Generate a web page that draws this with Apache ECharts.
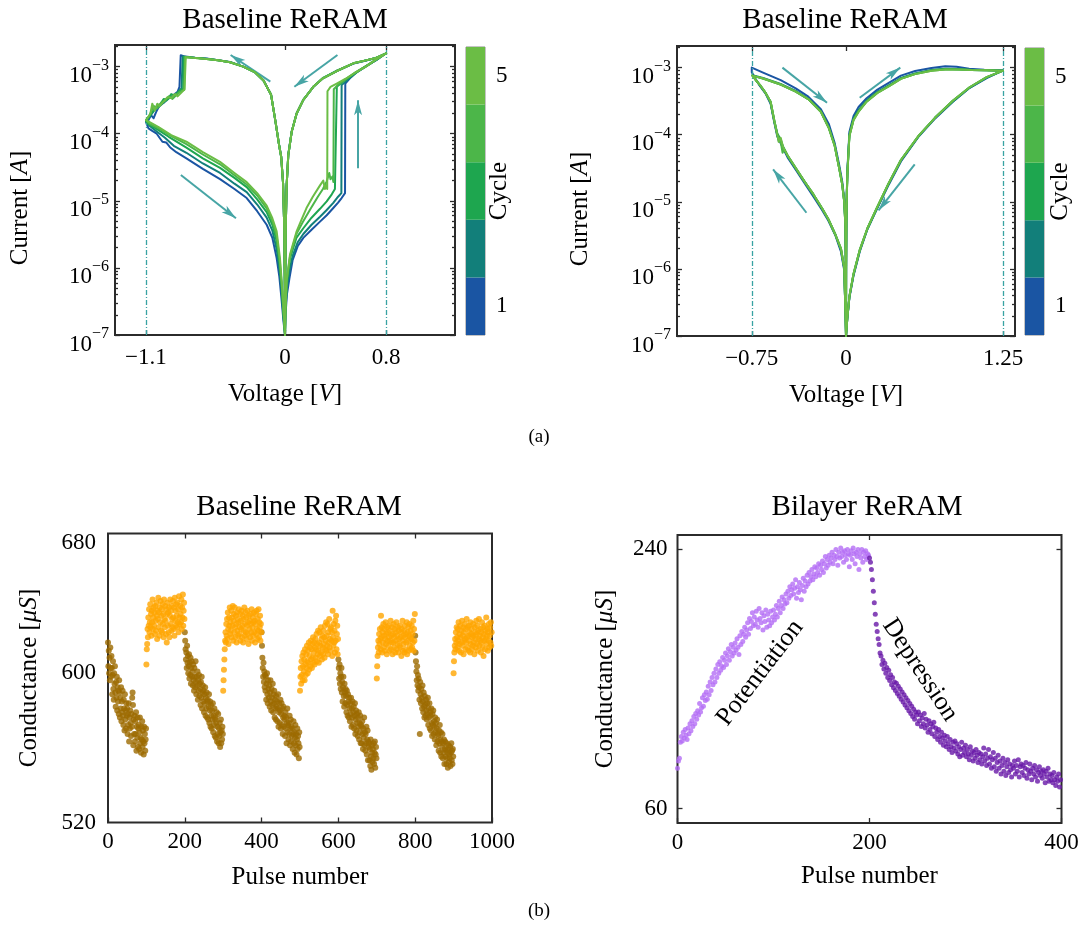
<!DOCTYPE html>
<html><head><meta charset="utf-8">
<script src="https://cdn.jsdelivr.net/npm/echarts@6/dist/echarts.min.js"></script>
<style>html,body{margin:0;padding:0;background:#fff}#c{width:1079px;height:940px}</style>
</head><body><div id="c"></div>
<script>
const FONT = 'Liberation Serif';

// ---------------- (a) I-V sweeps, left panel (Baseline ReRAM) : [V, |I|] ----------------
const ivA1 = [[0,1e-7],[0.004,2e-7],[0.015,4e-7],[0.035,7e-7],[0.06,1.3e-6],[0.1,2.1e-6],[0.145,2.8e-6],[0.21,3.7e-6],[0.277,4.9e-6],[0.33,6.1e-6],[0.382,7.8e-6],[0.42,9.4e-6],[0.448,1.1e-5],[0.475,1.3e-5],[0.477,5.6e-4],[0.52,6.9e-4],[0.567,8.3e-4],[0.62,9.6e-4],[0.672,1.1e-3],[0.74,1.32e-3],[0.8,1.58e-3],[0.72,1.34e-3],[0.64,1.23e-3],[0.54,1.11e-3],[0.41,8.6e-4],[0.3,6.7e-4],[0.224,5.0e-4],[0.145,3.2e-4],[0.092,2.0e-4],[0.053,1.07e-4],[0.026,4.8e-5],[0.013,1.7e-5],[0.006,4e-6],[0.002,8e-7],[0,1e-7],[-0.002,8e-7],[-0.006,4e-6],[-0.015,1.8e-5],[-0.03,4.5e-5],[-0.047,6.8e-5],[-0.075,1.5e-4],[-0.11,3.8e-4],[-0.17,6.2e-4],[-0.24,8.3e-4],[-0.33,1.0e-3],[-0.435,1.17e-3],[-0.53,1.25e-3],[-0.62,1.32e-3],[-0.71,1.36e-3],[-0.79,1.41e-3],[-0.825,1.48e-3],[-0.835,5.0e-4],[-0.85,4.2e-4],[-0.88,3.8e-4],[-0.91,3.4e-4],[-0.94,3.3e-4],[-0.96,2.9e-4],[-0.99,2.7e-4],[-1.02,2.1e-4],[-1.04,1.7e-4],[-1.06,1.9e-4],[-1.08,1.6e-4],[-1.1,1.5e-4],[-1.08,1.2e-4],[-1.05,1.1e-4],[-1.015,1.0e-4],[-0.97,7.6e-5],[-0.94,7.4e-5],[-0.91,6.3e-5],[-0.86,5.3e-5],[-0.78,4.3e-5],[-0.65,3.0e-5],[-0.514,2.1e-5],[-0.4,1.5e-5],[-0.303,1.1e-5],[-0.22,7.0e-6],[-0.145,4.4e-6],[-0.1,2.8e-6],[-0.066,1.4e-6],[-0.045,7.5e-7],[-0.028,3.5e-7],[-0.012,1.6e-7],[0,1e-7]];
const ivA2 = [[0,1e-7],[0.004,2.2e-7],[0.014,5e-7],[0.035,9e-7],[0.06,1.5e-6],[0.1,2.4e-6],[0.145,3.2e-6],[0.21,4.4e-6],[0.277,5.8e-6],[0.33,7.3e-6],[0.382,9.3e-6],[0.42,1.15e-5],[0.446,1.3e-5],[0.448,5.3e-4],[0.5,6.5e-4],[0.567,8.2e-4],[0.62,9.5e-4],[0.672,1.1e-3],[0.74,1.32e-3],[0.8,1.58e-3],[0.72,1.35e-3],[0.64,1.23e-3],[0.54,1.11e-3],[0.41,8.7e-4],[0.3,6.7e-4],[0.224,5.0e-4],[0.145,3.2e-4],[0.092,2.0e-4],[0.053,1.08e-4],[0.026,4.8e-5],[0.013,1.7e-5],[0.006,4e-6],[0.002,8e-7],[0,1e-7],[-0.002,8e-7],[-0.006,4e-6],[-0.015,1.8e-5],[-0.03,4.5e-5],[-0.047,6.9e-5],[-0.075,1.5e-4],[-0.11,3.8e-4],[-0.17,6.2e-4],[-0.24,8.3e-4],[-0.33,1.0e-3],[-0.435,1.16e-3],[-0.53,1.24e-3],[-0.62,1.31e-3],[-0.71,1.35e-3],[-0.81,1.42e-3],[-0.818,4.8e-4],[-0.85,4.0e-4],[-0.88,3.5e-4],[-0.91,3.6e-4],[-0.94,3.1e-4],[-0.97,2.8e-4],[-1.0,2.5e-4],[-1.03,2.3e-4],[-1.06,1.9e-4],[-1.08,1.7e-4],[-1.1,1.55e-4],[-1.07,1.3e-4],[-1.02,1.1e-4],[-0.95,8.7e-5],[-0.88,6.6e-5],[-0.78,5.2e-5],[-0.65,3.6e-5],[-0.514,2.6e-5],[-0.4,1.8e-5],[-0.303,1.35e-5],[-0.22,8.8e-6],[-0.145,5.6e-6],[-0.1,3.6e-6],[-0.066,1.9e-6],[-0.042,9e-7],[-0.025,4e-7],[-0.011,1.8e-7],[0,1e-7]];
const ivA3 = [[0,1e-7],[0.004,2.3e-7],[0.014,6e-7],[0.04,1.4e-6],[0.09,2.8e-6],[0.145,3.9e-6],[0.21,5.6e-6],[0.277,7.6e-6],[0.33,9.8e-6],[0.37,1.25e-5],[0.395,1.5e-5],[0.408,1.45e-5],[0.41,5.0e-4],[0.46,6.0e-4],[0.52,7.2e-4],[0.6,9.1e-4],[0.68,1.13e-3],[0.74,1.33e-3],[0.8,1.58e-3],[0.72,1.35e-3],[0.64,1.24e-3],[0.54,1.12e-3],[0.41,8.6e-4],[0.3,6.8e-4],[0.224,5.0e-4],[0.145,3.2e-4],[0.092,2.0e-4],[0.053,1.07e-4],[0.026,4.9e-5],[0.013,1.7e-5],[0.006,4e-6],[0.002,8e-7],[0,1e-7],[-0.002,8e-7],[-0.006,4e-6],[-0.015,1.8e-5],[-0.03,4.6e-5],[-0.047,6.8e-5],[-0.075,1.5e-4],[-0.11,3.8e-4],[-0.17,6.2e-4],[-0.24,8.3e-4],[-0.33,1.0e-3],[-0.435,1.16e-3],[-0.53,1.24e-3],[-0.62,1.3e-3],[-0.71,1.35e-3],[-0.8,1.4e-3],[-0.805,4.7e-4],[-0.84,4.3e-4],[-0.87,3.7e-4],[-0.9,3.9e-4],[-0.93,3.2e-4],[-0.96,3.3e-4],[-0.99,2.7e-4],[-1.02,2.5e-4],[-1.05,2.1e-4],[-1.075,1.8e-4],[-1.1,1.55e-4],[-1.07,1.35e-4],[-1.01,1.16e-4],[-0.92,9.0e-5],[-0.78,6.2e-5],[-0.65,4.3e-5],[-0.514,3.1e-5],[-0.4,2.2e-5],[-0.303,1.6e-5],[-0.22,1.05e-5],[-0.145,6.8e-6],[-0.1,4.4e-6],[-0.066,2.5e-6],[-0.041,1.1e-6],[-0.025,5e-7],[-0.012,2e-7],[0,1e-7]];
const ivA4 = [[0,1e-7],[0.004,2.4e-7],[0.013,6.3e-7],[0.04,1.5e-6],[0.09,3.2e-6],[0.14,4.8e-6],[0.2,7.5e-6],[0.26,1.15e-5],[0.3,1.5e-5],[0.33,1.95e-5],[0.35,2.6e-5],[0.36,2.1e-5],[0.375,2.3e-5],[0.383,1.9e-5],[0.386,4.6e-4],[0.42,5.4e-4],[0.48,6.5e-4],[0.56,8.3e-4],[0.64,1.02e-3],[0.72,1.28e-3],[0.8,1.58e-3],[0.72,1.35e-3],[0.64,1.24e-3],[0.54,1.12e-3],[0.41,8.6e-4],[0.3,6.7e-4],[0.224,5.0e-4],[0.145,3.2e-4],[0.092,2.0e-4],[0.053,1.07e-4],[0.026,4.8e-5],[0.013,1.7e-5],[0.006,4e-6],[0.002,8e-7],[0,1e-7],[-0.002,8e-7],[-0.006,4e-6],[-0.015,1.8e-5],[-0.03,4.5e-5],[-0.047,6.8e-5],[-0.075,1.5e-4],[-0.11,3.8e-4],[-0.17,6.2e-4],[-0.24,8.3e-4],[-0.33,1.0e-3],[-0.435,1.16e-3],[-0.53,1.24e-3],[-0.62,1.3e-3],[-0.71,1.34e-3],[-0.79,1.39e-3],[-0.797,4.5e-4],[-0.83,4.2e-4],[-0.86,3.8e-4],[-0.89,3.3e-4],[-0.92,3.6e-4],[-0.95,3.1e-4],[-0.98,2.9e-4],[-1.01,2.4e-4],[-1.04,2.6e-4],[-1.07,1.9e-4],[-1.1,1.6e-4],[-1.07,1.4e-4],[-1.0,1.2e-4],[-0.9,9.2e-5],[-0.78,7.0e-5],[-0.65,4.9e-5],[-0.514,3.5e-5],[-0.4,2.4e-5],[-0.303,1.75e-5],[-0.22,1.2e-5],[-0.145,7.7e-6],[-0.1,5.0e-6],[-0.066,3.0e-6],[-0.04,1.2e-6],[-0.025,5.5e-7],[-0.012,2.2e-7],[0,1e-7]];
const ivA5 = [[0,1e-7],[0.004,2.5e-7],[0.013,6.5e-7],[0.04,1.6e-6],[0.092,3.5e-6],[0.13,5.2e-6],[0.17,7.8e-6],[0.22,1.15e-5],[0.277,1.7e-5],[0.303,2.0e-5],[0.316,1.5e-5],[0.326,1.7e-5],[0.334,1.5e-5],[0.336,4.3e-4],[0.36,5.0e-4],[0.409,5.6e-4],[0.48,6.6e-4],[0.56,8.2e-4],[0.64,1.0e-3],[0.72,1.27e-3],[0.8,1.58e-3],[0.72,1.35e-3],[0.64,1.24e-3],[0.54,1.12e-3],[0.41,8.6e-4],[0.3,6.7e-4],[0.224,5.0e-4],[0.145,3.2e-4],[0.092,2.0e-4],[0.053,1.07e-4],[0.026,4.8e-5],[0.013,1.7e-5],[0.006,4e-6],[0.002,8e-7],[0,1e-7],[-0.002,8e-7],[-0.006,4e-6],[-0.015,1.8e-5],[-0.03,4.5e-5],[-0.047,6.8e-5],[-0.075,1.5e-4],[-0.11,3.8e-4],[-0.17,6.2e-4],[-0.24,8.3e-4],[-0.33,1.0e-3],[-0.435,1.16e-3],[-0.53,1.24e-3],[-0.62,1.3e-3],[-0.71,1.34e-3],[-0.785,1.38e-3],[-0.795,4.6e-4],[-0.82,4.1e-4],[-0.85,3.6e-4],[-0.87,3.9e-4],[-0.9,3.4e-4],[-0.93,3.5e-4],[-0.96,3.0e-4],[-0.99,2.6e-4],[-1.01,2.8e-4],[-1.03,2.2e-4],[-1.05,2.8e-4],[-1.065,2.0e-4],[-1.08,1.8e-4],[-1.1,1.6e-4],[-1.06,1.45e-4],[-1.0,1.25e-4],[-0.9,9.5e-5],[-0.78,7.6e-5],[-0.65,5.3e-5],[-0.514,3.8e-5],[-0.4,2.6e-5],[-0.303,1.9e-5],[-0.22,1.3e-5],[-0.145,8.5e-6],[-0.1,5.5e-6],[-0.066,3.5e-6],[-0.04,1.4e-6],[-0.025,6e-7],[-0.012,2.5e-7],[0,1e-7]];

// ---------------- (a) I-V sweeps, right panel ----------------
const ivB1 = [[0,1e-7],[0.001,1e-6],[0.003,5e-6],[0.006,1.3e-5],[0.012,3.2e-5],[0.027,1.1e-4],[0.06,1.9e-4],[0.1,2.6e-4],[0.164,3.5e-4],[0.25,4.7e-4],[0.35,6.1e-4],[0.437,7.6e-4],[0.55,8.9e-4],[0.68,9.9e-4],[0.79,1.05e-3],[0.88,1.03e-3],[0.98,9.6e-4],[1.1,9.3e-4],[1.25,9.1e-4],[1.12,7.0e-4],[0.984,5.0e-4],[0.85,3.1e-4],[0.71,1.75e-4],[0.58,9.5e-5],[0.437,4.0e-5],[0.34,1.8e-5],[0.246,7.8e-6],[0.17,3.9e-6],[0.109,1.8e-6],[0.06,8e-7],[0.027,3.7e-7],[0.01,1.8e-7],[0,1e-7],[-0.005,2.5e-7],[-0.014,9.5e-7],[-0.04,1.8e-6],[-0.083,3.1e-6],[-0.14,5.2e-6],[-0.192,7.6e-6],[-0.26,1.2e-5],[-0.33,1.9e-5],[-0.4,3.0e-5],[-0.465,4.6e-5],[-0.5,6.2e-5],[-0.53,8.2e-5],[-0.547,9.5e-5],[-0.57,1.5e-4],[-0.6,2.9e-4],[-0.64,4.1e-4],[-0.684,5.3e-4],[-0.72,6.8e-4],[-0.75,8.5e-4],[-0.75,1.0e-3],[-0.66,8.4e-4],[-0.52,6.5e-4],[-0.4,4.9e-4],[-0.3,3.7e-4],[-0.2,2.4e-4],[-0.137,1.45e-4],[-0.09,7.5e-5],[-0.055,3.6e-5],[-0.03,2e-5],[-0.014,1.1e-5],[-0.005,5e-6],[-0.001,1e-6],[0,1e-7]];
const ivB2 = [[0,1e-7],[0.001,1e-6],[0.003,4.8e-6],[0.006,1.25e-5],[0.012,3e-5],[0.027,1.0e-4],[0.06,1.75e-4],[0.1,2.35e-4],[0.164,3.25e-4],[0.25,4.35e-4],[0.35,5.6e-4],[0.437,7.0e-4],[0.55,8.2e-4],[0.68,9.2e-4],[0.79,9.6e-4],[0.9,9.5e-4],[1.0,9.2e-4],[1.12,9.1e-4],[1.25,9.0e-4],[1.12,7.1e-4],[0.984,5.0e-4],[0.85,3.1e-4],[0.71,1.8e-4],[0.58,9.6e-5],[0.437,4.1e-5],[0.34,1.85e-5],[0.246,8.0e-6],[0.17,3.9e-6],[0.109,1.85e-6],[0.06,8.2e-7],[0.027,3.8e-7],[0.01,1.8e-7],[0,1e-7],[-0.005,2.5e-7],[-0.014,1.0e-6],[-0.04,1.9e-6],[-0.083,3.2e-6],[-0.14,5.4e-6],[-0.192,8.0e-6],[-0.26,1.25e-5],[-0.33,2.0e-5],[-0.4,3.1e-5],[-0.465,4.8e-5],[-0.5,6.4e-5],[-0.52,8.6e-5],[-0.535,8.0e-5],[-0.547,1.0e-4],[-0.57,1.55e-4],[-0.6,3.0e-4],[-0.64,4.2e-4],[-0.684,5.4e-4],[-0.72,6.6e-4],[-0.745,7.7e-4],[-0.745,7.9e-4],[-0.66,7.0e-4],[-0.52,5.7e-4],[-0.4,4.5e-4],[-0.3,3.4e-4],[-0.2,2.25e-4],[-0.137,1.3e-4],[-0.09,7.0e-5],[-0.055,3.3e-5],[-0.03,1.85e-5],[-0.014,1.0e-5],[-0.005,4.6e-6],[-0.001,1e-6],[0,1e-7]];
const ivB3 = [[0,1e-7],[0.001,1e-6],[0.003,4.6e-6],[0.006,1.2e-5],[0.012,2.9e-5],[0.027,9.7e-5],[0.06,1.7e-4],[0.1,2.25e-4],[0.164,3.15e-4],[0.25,4.25e-4],[0.35,5.5e-4],[0.437,6.9e-4],[0.55,8.1e-4],[0.68,9.1e-4],[0.79,9.5e-4],[0.9,9.4e-4],[1.0,9.2e-4],[1.12,9.1e-4],[1.25,9.0e-4],[1.12,7.2e-4],[0.984,5.1e-4],[0.85,3.2e-4],[0.71,1.8e-4],[0.58,9.7e-5],[0.437,4.2e-5],[0.34,1.9e-5],[0.246,8.1e-6],[0.17,4.0e-6],[0.109,1.9e-6],[0.06,8.4e-7],[0.027,3.9e-7],[0.01,1.8e-7],[0,1e-7],[-0.005,2.5e-7],[-0.014,1.05e-6],[-0.04,2.0e-6],[-0.083,3.2e-6],[-0.14,5.5e-6],[-0.192,8.1e-6],[-0.26,1.3e-5],[-0.33,2.0e-5],[-0.4,3.2e-5],[-0.465,4.9e-5],[-0.5,6.6e-5],[-0.515,7.6e-5],[-0.53,9.2e-5],[-0.547,1.05e-4],[-0.57,1.6e-4],[-0.6,3.1e-4],[-0.64,4.2e-4],[-0.684,5.5e-4],[-0.72,6.6e-4],[-0.745,7.6e-4],[-0.745,7.8e-4],[-0.66,6.9e-4],[-0.52,5.6e-4],[-0.4,4.4e-4],[-0.3,3.4e-4],[-0.2,2.2e-4],[-0.137,1.27e-4],[-0.09,6.9e-5],[-0.055,3.2e-5],[-0.03,1.8e-5],[-0.014,1.0e-5],[-0.005,4.5e-6],[-0.001,1e-6],[0,1e-7]];
const ivB4 = [[0,1e-7],[0.001,1e-6],[0.003,4.5e-6],[0.006,1.2e-5],[0.012,2.8e-5],[0.027,9.6e-5],[0.06,1.66e-4],[0.1,2.2e-4],[0.164,3.1e-4],[0.25,4.2e-4],[0.35,5.4e-4],[0.437,6.8e-4],[0.55,8.0e-4],[0.68,9.0e-4],[0.79,9.4e-4],[0.9,9.4e-4],[1.0,9.2e-4],[1.12,9.1e-4],[1.25,9.0e-4],[1.12,7.2e-4],[0.984,5.1e-4],[0.85,3.2e-4],[0.71,1.8e-4],[0.58,9.8e-5],[0.437,4.2e-5],[0.34,1.9e-5],[0.246,8.2e-6],[0.17,4.0e-6],[0.109,1.9e-6],[0.06,8.5e-7],[0.027,3.9e-7],[0.01,1.8e-7],[0,1e-7],[-0.005,2.5e-7],[-0.014,1.05e-6],[-0.04,2.0e-6],[-0.083,3.2e-6],[-0.14,5.5e-6],[-0.192,8.1e-6],[-0.26,1.3e-5],[-0.33,2.0e-5],[-0.4,3.2e-5],[-0.465,4.9e-5],[-0.49,6.0e-5],[-0.505,5.4e-5],[-0.52,8.0e-5],[-0.547,1.0e-4],[-0.57,1.6e-4],[-0.6,3.1e-4],[-0.64,4.2e-4],[-0.684,5.5e-4],[-0.72,6.6e-4],[-0.745,7.6e-4],[-0.745,7.8e-4],[-0.66,6.9e-4],[-0.52,5.6e-4],[-0.4,4.4e-4],[-0.3,3.4e-4],[-0.2,2.2e-4],[-0.137,1.26e-4],[-0.09,6.8e-5],[-0.055,3.2e-5],[-0.03,1.8e-5],[-0.014,1.0e-5],[-0.005,4.5e-6],[-0.001,1e-6],[0,1e-7]];
const ivB5 = [[0,1e-7],[0.001,1e-6],[0.003,4.5e-6],[0.006,1.2e-5],[0.012,2.8e-5],[0.027,9.5e-5],[0.06,1.65e-4],[0.1,2.2e-4],[0.164,3.1e-4],[0.25,4.2e-4],[0.35,5.4e-4],[0.437,6.8e-4],[0.55,8.0e-4],[0.68,9.0e-4],[0.79,9.4e-4],[0.9,9.4e-4],[1.0,9.2e-4],[1.12,9.1e-4],[1.25,9.0e-4],[1.12,7.2e-4],[0.984,5.1e-4],[0.85,3.2e-4],[0.71,1.8e-4],[0.58,9.8e-5],[0.437,4.2e-5],[0.34,1.9e-5],[0.246,8.2e-6],[0.17,4.0e-6],[0.109,1.9e-6],[0.06,8.5e-7],[0.027,3.9e-7],[0.01,1.8e-7],[0,1e-7],[-0.005,2.5e-7],[-0.014,1.05e-6],[-0.04,2.0e-6],[-0.083,3.2e-6],[-0.14,5.5e-6],[-0.192,8.1e-6],[-0.26,1.3e-5],[-0.33,2.0e-5],[-0.4,3.2e-5],[-0.465,4.9e-5],[-0.5,6.5e-5],[-0.52,9.0e-5],[-0.535,7.8e-5],[-0.547,1.0e-4],[-0.57,1.6e-4],[-0.6,3.1e-4],[-0.64,4.2e-4],[-0.684,5.5e-4],[-0.72,6.6e-4],[-0.745,7.6e-4],[-0.745,7.8e-4],[-0.66,6.9e-4],[-0.52,5.6e-4],[-0.4,4.4e-4],[-0.3,3.4e-4],[-0.2,2.2e-4],[-0.137,1.26e-4],[-0.09,6.8e-5],[-0.055,3.2e-5],[-0.03,1.8e-5],[-0.014,1.0e-5],[-0.005,4.5e-6],[-0.001,1e-6],[0,1e-7]];

const cycleLabels = ['1','2','3','4','5'];
const cycleColors = ['#1a55a3','#127f7a','#1ea64f','#4cb649','#6bbd45'];
const voltTicksA = [-1.1, 0, 0.8];
const voltTicksB = [-0.75, 0, 1.25];
const currentTicks = [1e-7, 1e-6, 1e-5, 1e-4, 1e-3];
// sweep-direction arrows [start, end] as [V, I]
const arrowsA = [[[-0.116,5.96e-4],[-0.43,1.49e-3]],[[0.415,1.49e-3],[0.074,5.0e-4]],[[0.578,3.05e-5],[0.578,3.16e-4]],[[-0.824,2.42e-5],[-0.388,5.5e-6]]];
const arrowsB = [[[-0.506,1.0e-3],[-0.151,3.0e-4]],[[0.109,3.56e-4],[0.432,1.0e-3]],[[0.547,3.62e-5],[0.259,7.46e-6]],[[-0.315,6.87e-6],[-0.58,3.05e-5]]];

// ---------------- (b) left: Baseline ReRAM pulses, conductance in uS, 100-pulse blocks ----------------
const baseDep1 = [618,604,613,600,609,596,615,603,598,610,603,588,599,607,591,585,600,594,604,589,581,595,586,598,579,592,584,590,577,596,589,575,586,580,592,573,584,578,590,576,571,585,580,568,588,574,579,569,583,576,580,566,577,571,583,562,575,569,579,572,565,577,570,586,589,582,560,574,566,576,562,573,566,578,557,570,564,575,559,569,571,558,567,575,561,564,556,570,563,573,559,568,562,555,570,561,566,557,563,569];
const basePot1 = [605,614,617,626,621,633,628,638,624,630,641,627,635,622,637,630,644,626,633,639,628,636,623,640,631,625,642,634,620,637,632,645,627,636,622,639,630,643,625,634,638,624,641,629,635,621,644,632,627,640,631,623,638,618,635,642,628,636,624,639,621,634,644,629,637,625,640,632,627,643,633,626,639,622,645,631,637,628,641,634,627,642,630,638,624,646,633,629,640,635,630,644,626,639,633,647,628,637,642,632];
const baseDep2 = [624,619,614,608,612,603,616,606,610,600,604,611,597,606,599,609,594,603,607,598,601,593,605,596,590,603,598,592,607,595,588,598,593,601,585,596,590,599,587,594,591,582,595,586,598,580,589,593,584,590,578,588,583,592,576,586,580,589,575,584,585,574,581,588,572,579,584,570,582,576,569,579,574,583,567,576,571,580,565,574,575,564,572,578,562,570,566,577,561,569,565,572,559,567,574,561,568,563,570,566];
const basePot2 = [590,596,602,608,614,619,624,618,629,622,632,620,636,626,617,633,628,639,623,630,625,637,621,633,628,640,619,631,635,624,639,627,621,634,629,618,636,625,632,622,630,638,623,627,635,619,631,626,637,621,628,634,618,632,625,639,622,629,636,624,633,620,628,637,623,630,617,634,626,631,621,635,629,624,638,619,627,633,622,630,636,624,631,618,629,635,623,637,626,620,632,625,638,621,630,627,634,619,629,624];
const baseDep3 = [624,616,609,603,598,606,595,601,592,599,590,598,585,594,600,588,583,596,591,586,593,581,589,596,584,579,591,586,582,594,578,588,583,590,575,585,580,574,587,581,584,573,580,588,570,578,583,572,579,585,569,577,583,571,580,566,575,581,570,576,574,565,578,569,575,561,572,580,567,571,563,572,566,576,560,569,574,562,570,565,569,558,566,573,561,567,556,564,571,560,566,555,563,569,558,565,561,553,567,559];
const basePot3 = [590,598,603,594,607,599,610,596,604,612,601,608,596,614,605,599,611,603,616,607,600,613,606,618,602,610,615,604,619,608,614,603,617,609,621,606,612,618,605,615,620,609,614,623,607,617,611,625,613,606,618,624,610,616,627,612,620,608,622,615,611,625,617,621,609,628,614,619,630,613,622,616,629,611,624,618,632,615,620,626,613,627,619,624,610,637,621,616,629,618,625,612,631,619,634,614,623,628,611,620];
const baseDep4 = [608,603,597,605,594,600,591,598,603,589,595,584,592,598,587,581,594,589,583,591,587,578,590,582,576,588,584,575,586,580,573,583,577,586,570,580,575,584,571,578,581,569,576,583,566,574,579,568,577,572,565,575,570,578,563,572,567,576,561,571,570,561,573,566,558,569,564,575,560,567,557,566,561,570,555,563,568,552,562,559,561,552,558,549,563,554,547,560,556,551,558,553,561,550,556,562,548,555,559,553];
const basePot4 = [597,604,610,615,619,612,623,617,626,620,614,634,621,627,612,624,618,629,615,622,626,613,620,630,617,623,611,627,619,624,616,628,621,613,625,619,631,614,622,618,627,611,623,618,629,615,621,626,612,624,619,630,614,622,617,627,612,625,620,616,628,615,621,624,610,626,619,631,613,622,617,625,612,628,621,614,623,618,630,611,624,619,627,613,622,629,616,621,625,614,620,628,615,623,618,631,613,626,619,635];
const baseDep5 = [622,612,607,601,596,604,593,599,590,597,592,585,566,595,588,583,591,586,580,593,584,578,589,581,575,587,582,576,585,579,574,583,577,586,571,580,575,583,569,578,576,568,580,572,565,577,571,579,566,573,570,563,575,567,572,560,569,574,562,566,565,557,568,561,571,556,563,567,554,562,559,566,553,561,556,563,550,558,562,554,557,550,561,553,558,548,556,560,551,555,553,559,549,556,561,552,557,550,558,554];
const basePot5 = [600,607,612,616,620,614,624,618,627,621,615,626,619,630,613,623,617,628,621,612,625,618,631,616,622,627,611,624,619,629,620,614,626,618,632,621,615,627,622,613,628,619,624,612,630,617,623,626,614,621,616,629,622,618,611,627,620,624,615,631,623,617,628,613,625,620,632,616,622,619,626,612,624,618,630,615,621,627,610,623,619,628,614,625,620,633,617,622,626,613,624,619,629,615,622,627,618,630,616,624];
const baseBlocks = [baseDep1, basePot1, baseDep2, basePot2, baseDep3, basePot3, baseDep4, basePot4, baseDep5, basePot5];
const baseBlockStart = [0, 100, 200, 300, 400, 500, 600, 700, 800, 900];

// ---------------- (b) right: Bilayer ReRAM ----------------
const bilayerPot = [88,93,95,106,110,107,113,109,115,111,108,116,112,119,114,121,117,124,119,126,122,128,125,133,127,130,137,131,139,135,141,136,145,139,148,142,151,146,154,148,157,151,160,154,162,156,159,165,158,163,168,160,166,171,163,169,174,166,172,168,175,170,178,172,167,180,174,183,176,181,186,179,184,189,181,192,185,190,196,187,193,188,197,191,186,199,192,189,196,184,194,190,198,186,195,191,187,197,189,193,198,191,195,201,193,199,204,196,201,207,199,205,202,209,203,211,206,214,208,212,216,209,213,219,206,214,210,217,212,205,215,220,211,218,214,222,216,224,218,221,226,219,223,228,221,227,224,230,222,229,226,232,224,230,235,227,233,229,236,231,234,238,230,236,233,240,235,229,238,234,241,235,238,231,239,236,233,240,237,228,236,239,233,241,237,230,238,235,240,226,237,234,240,231,238,235,239,233,237,236];
const bilayerDep = [234,231,226,219,211,203,195,188,183,178,174,168,166,160,163,157,161,154,158,151,156,149,153,146,151,144,148,142,147,140,145,138,143,136,141,134,139,132,137,130,135,128,133,126,131,124,129,122,127,125,119,127,121,125,117,123,119,126,116,122,118,113,121,115,119,112,117,120,110,116,113,108,115,110,106,113,109,104,111,107,103,110,105,101,108,103,99,106,102,107,100,105,98,103,96,101,106,97,102,99,104,96,101,98,94,103,97,100,93,99,95,101,97,92,99,94,98,91,96,102,93,98,90,95,101,91,96,88,94,99,89,95,86,92,97,88,93,84,90,95,86,92,83,89,94,85,91,87,82,90,88,93,84,90,86,94,82,89,91,85,90,83,88,92,81,87,84,91,86,80,88,84,90,82,87,79,85,89,83,86,81,87,84,78,86,82,88,79,84,80,83,78,85,80,76,82,79,84,75,80];
const bilayerPotStart = 0, bilayerDepStart = 200;

// tick label sets
const condTicksA = [520, 600, 680];
const condTicksB = [60, 240];
const pulseTicksB = [0, 200, 400];

// ---------------- build ----------------
const INK = '#000';
const BORDER = '#2b2b2b';
const txt = (size, extra) => Object.assign({fontFamily: FONT, fontSize: size, color: INK}, extra || {});
const minus = v => (v < 0 ? '\u2212' + (-v) : String(v));
const minorCurrent = [];
currentTicks.forEach(d => { for (let k = 2; k <= 9; k++) { const v = parseFloat((k * d).toPrecision(3)); if (v <= 2.1e-3) minorCurrent.push(v); } });
const tickStyle = {color: BORDER, width: 1.3};
const noLine = {show:false, onZero:false};

function voltAxis(gridIndex, ticks) {
  return {type:'value', gridIndex, min:-1.345, max:1.345, position:'bottom',
    axisLine:noLine, splitLine:{show:false},
    axisTick:{show:true, inside:true, length:5, customValues:ticks, lineStyle:tickStyle},
    axisLabel:Object.assign({customValues:ticks, margin:11, formatter:minus}, txt(23)),
    name:'Voltage [{i|V}]', nameLocation:'middle', nameGap:47,
    nameTextStyle:Object.assign(txt(25), {rich:{i:txt(25,{fontStyle:'italic'})}})};
}
function topTickAxis(gridIndex, min, max, ticks) {
  return {type:'value', gridIndex, min, max, position:'top', axisLine:noLine, splitLine:{show:false},
    axisLabel:{show:false}, axisTick:{show:true, inside:true, length:5, customValues:ticks, lineStyle:tickStyle}};
}
function hiddenAxis(gridIndex) {
  return {type:'value', gridIndex, min:0, max:1, show:false, axisLine:noLine};
}
function currentAxis(gridIndex, pos, mode, nameGap) {
  const a = {type:'log', logBase:10, gridIndex, min:1e-7, max:2.1e-3, position:pos,
    axisLine:noLine, splitLine:{show:false}, axisLabel:{show:false},
    axisTick:{show:true, inside:true, length: mode === 'minor' ? 3 : 5,
      customValues: mode === 'minor' ? minorCurrent : currentTicks, lineStyle:tickStyle}};
  if (mode === 'label') {
    a.axisLabel = {show:true, customValues:currentTicks, margin:6, padding:[12,0,0,0],
      formatter: v => '{b|10}{s|\u2212' + Math.round(-Math.log10(v)) + '}',
      rich:{b:txt(23,{padding:[7,0,0,0]}), s:txt(16,{verticalAlign:'top'})}};
    a.name = 'Current [{i|A}]'; a.nameLocation = 'middle'; a.nameGap = nameGap;
    a.nameTextStyle = Object.assign(txt(25), {padding:[0,36,0,0], rich:{i:txt(25,{fontStyle:'italic'})}});
  }
  return a;
}
function cbAxis(gridIndex, nameGap) {
  return {type:'category', gridIndex, position:'right', data:cycleLabels,
    axisLine:noLine, axisTick:{show:false}, splitLine:{show:false},
    axisLabel:Object.assign({margin:11, formatter: v => (v === '1' || v === '5') ? v : ''}, txt(23)),
    name:'Cycle', nameLocation:'middle', nameRotate:90, nameGap, nameMoveOverlap:false, nameTextStyle:txt(25)};
}

const grids = [
  {left:115, top:45, width:340, height:290},      // 0 IV left
  {left:466, top:47, width:19, height:288},       // 1 colorbar left
  {left:677, top:46, width:338, height:290},      // 2 IV right
  {left:1025, top:48, width:19, height:287},      // 3 colorbar right
  {left:108, top:533.5, width:384, height:289},   // 4 baseline pulses
  {left:677.5, top:535, width:384, height:288}    // 5 bilayer pulses
].map((g, i) => Object.assign({show:true, borderColor: (i === 1 || i === 3) ? '#8a8a8a' : BORDER,
  borderWidth: (i === 1 || i === 3) ? 1 : 2, backgroundColor:'transparent', containLabel:false, outerBoundsMode:'none'}, g));

const xAxis = [
  voltAxis(0, voltTicksA),                      // 0
  topTickAxis(0, -1.345, 1.345, voltTicksA),    // 1
  hiddenAxis(1),                                // 2
  voltAxis(2, voltTicksB),                      // 3
  topTickAxis(2, -1.345, 1.345, voltTicksB),    // 4
  hiddenAxis(3),                                // 5
  {type:'value', gridIndex:4, min:0, max:1000, interval:200, position:'bottom', axisLine:noLine, splitLine:{show:false},
   axisTick:{show:true, inside:true, length:5, lineStyle:tickStyle}, axisLabel:Object.assign({margin:8, formatter: v => String(v)}, txt(23)),
   name:'Pulse number', nameLocation:'middle', nameGap:42, nameTextStyle:txt(25)},   // 6
  topTickAxis(4, 0, 1000, [200, 400, 600, 800]),  // 7
  {type:'value', gridIndex:5, min:0, max:400, position:'bottom', axisLine:noLine, splitLine:{show:false},
   axisTick:{show:true, inside:true, length:5, customValues:pulseTicksB, lineStyle:tickStyle},
   axisLabel:Object.assign({customValues:pulseTicksB, margin:8, formatter: v => String(v)}, txt(23)),
   name:'Pulse number', nameLocation:'middle', nameGap:41, nameTextStyle:txt(25)},    // 8
  topTickAxis(5, 0, 400, [200])                   // 9
];

const yAxis = [
  currentAxis(0, 'left', 'label', 82),   // 0
  currentAxis(0, 'left', 'minor'),       // 1
  currentAxis(0, 'right', 'major'),      // 2
  currentAxis(0, 'right', 'minor'),      // 3
  cbAxis(1, 2),                          // 4
  currentAxis(2, 'left', 'label', 84),   // 5
  currentAxis(2, 'left', 'minor'),       // 6
  currentAxis(2, 'right', 'major'),      // 7
  currentAxis(2, 'right', 'minor'),      // 8
  cbAxis(3, 4),                          // 9
  {type:'log', logBase:10, gridIndex:4, min:520, max:686, position:'left', axisLine:noLine, splitLine:{show:false},
   axisTick:{show:false}, axisLabel:Object.assign({customValues:condTicksA, margin:12}, txt(23)),
   name:'Conductance [{i|\u03bcS}]', nameLocation:'middle', nameGap:66,
   nameTextStyle:Object.assign(txt(25), {rich:{i:txt(25,{fontStyle:'italic'})}})},   // 10
  {type:'value', gridIndex:5, min:50, max:250, position:'left', axisLine:noLine, splitLine:{show:false},
   axisTick:{show:true, inside:true, length:5, customValues:condTicksB, lineStyle:tickStyle},
   axisLabel:Object.assign({customValues:condTicksB, margin:10}, txt(23)),
   name:'Conductance [{i|\u03bcS}]', nameLocation:'middle', nameGap:60,
   nameTextStyle:Object.assign(txt(25), {rich:{i:txt(25,{fontStyle:'italic'})}})},   // 11
  {type:'value', gridIndex:5, min:50, max:250, position:'right', axisLine:noLine, splitLine:{show:false},
   axisLabel:{show:false}, axisTick:{show:true, inside:true, length:5, customValues:condTicksB, lineStyle:tickStyle}} // 12
];

const ARROW = '#47a5a5';
const VLINE = '#38a3a3';
function ivSeries(list, xi, yi, arrows, limits) {
  return list.map((d, i) => {
    const s = {type:'line', name:'Cycle ' + cycleLabels[i], xAxisIndex:xi, yAxisIndex:yi, data:d,
      showSymbol:false, symbol:'none', smooth:false, clip:true, silent:true, z: 3 + i,
      lineStyle:{color:cycleColors[i], width:2, join:'round', cap:'round'}};
    if (i === 0) {
      s.markLine = {silent:true, animation:false, symbol:['none','arrow'], symbolSize:[6, 15], label:{show:false},
        lineStyle:{color:ARROW, width:2, type:'solid'}, emphasis:{disabled:true},
        data: arrows.map(a => [{coord:a[0]}, {coord:a[1]}])};
    }
    if (i === 1) {
      s.markLine = {silent:true, animation:false, symbol:['none','none'], label:{show:false},
        lineStyle:{color:VLINE, width:1.3, type:[5,2,1,2]}, emphasis:{disabled:true},
        data: limits.map(v => ({xAxis:v}))};
    }
    return s;
  });
}
function cbSeries(xi, yi) {
  return {type:'bar', xAxisIndex:xi, yAxisIndex:yi, barWidth:'100%', silent:true,
    data: cycleColors.map(c => ({value:1, itemStyle:{color:c}}))};
}
function blockPoints(blocks, starts, pick) {
  const out = [];
  blocks.forEach((b, k) => { if (k % 2 === pick) b.forEach((v, j) => out.push([starts[k] + j, v])); });
  return out;
}
const series = [].concat(
  ivSeries([ivA1, ivA2, ivA3, ivA4, ivA5], 0, 0, arrowsA, [-1.1, 0.8]),
  [cbSeries(2, 4)],
  ivSeries([ivB1, ivB2, ivB3, ivB4, ivB5], 3, 5, arrowsB, [-0.75, 1.25]),
  [cbSeries(5, 9)],
  [{type:'scatter', name:'Depression', xAxisIndex:6, yAxisIndex:10, symbolSize:6, silent:true,
     itemStyle:{color:'#9c6a00'}, data: blockPoints(baseBlocks, baseBlockStart, 0)},
   {type:'scatter', name:'Potentiation', xAxisIndex:6, yAxisIndex:10, symbolSize:6, silent:true,
     itemStyle:{color:'#ffa500'}, data: blockPoints(baseBlocks, baseBlockStart, 1)},
   {type:'scatter', name:'Potentiation', xAxisIndex:8, yAxisIndex:11, symbolSize:5, silent:true,
     itemStyle:{color:'#b46ef5'}, data: bilayerPot.map((v, j) => [bilayerPotStart + j, v])},
   {type:'scatter', name:'Depression', xAxisIndex:8, yAxisIndex:11, symbolSize:5, silent:true,
     itemStyle:{color:'#6818a8'}, data: bilayerDep.map((v, j) => [bilayerDepStart + j, v])}]
);

const textEl = (x, y, text, size, rot) => ({type:'text', x, y, rotation: rot || 0, silent:true,
  style:{text, fill:INK, font: size + 'px "' + FONT + '"', align:'center', verticalAlign:'middle'}});
const graphic = [
  textEl(285, 20, 'Baseline ReRAM', 29),
  textEl(845, 20, 'Baseline ReRAM', 29),
  textEl(299, 507, 'Baseline ReRAM', 29),
  textEl(867, 507, 'Bilayer ReRAM', 29),
  textEl(539, 437, '(a)', 19),
  textEl(539, 911, '(b)', 19),
  textEl(760, 673, 'Potentiation', 26, 52.5 * Math.PI / 180),
  textEl(920, 670, 'Depression', 26, -56.7 * Math.PI / 180)
];

const chart = echarts.init(document.getElementById('c'), null, {renderer:'canvas'});
chart.setOption({
  animation:false, backgroundColor:'#fff', textStyle:{fontFamily:FONT},
  grid:grids, xAxis, yAxis, series, graphic
});
</script></body></html>
